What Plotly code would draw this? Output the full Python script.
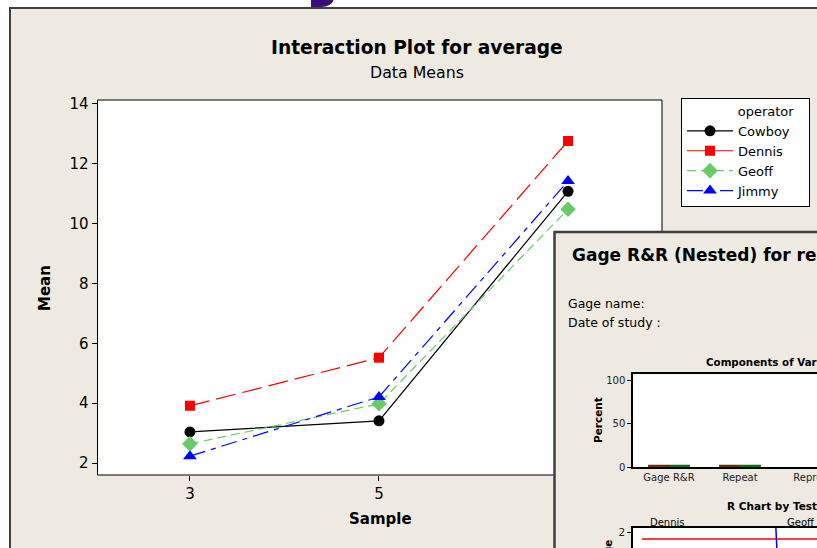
import plotly.graph_objects as go

W, H = 817, 548
def X(px): return px / W
def Y(py): return 1 - py / H

# ---------------- data ----------------
samples = ["3", "5", "(hidden)"]
operators = ["Cowboy", "Dennis", "Geoff", "Jimmy"]
cowboy = [3.04, 3.41, 11.08]
dennis = [3.91, 5.52, 12.76]
geoff = [2.64, 3.98, 10.48]
jimmy = [2.23, 4.21, 11.42]
y_ticks = [2, 4, 6, 8, 10, 12, 14]

# overlapping Gage R&R window: components of variation
components = ["Gage R&R", "Repeat", "Reprod"]
pct_contribution = [2.6, 2.6, 0.0]
pct_study_var = [2.6, 2.6, 0.0]
pct_ticks = [0, 50, 100]

# R chart sliver
rbar_x = [1, 21]
rbar_y = [1.825, 1.825]
range_x = [15.85, 16.0]
range_y = [2.2, 1.5]

FONT = "DejaVu Sans"
BEIGE = "#EEEAE1"
BORDER = "#3F3F3F"
NB = "\u00a0"

styles = {
    "Cowboy": dict(color="black", dash="solid", symbol="circle", size=11),
    "Dennis": dict(color="#FF0000", dash="20px,7px", symbol="square", size=10),
    "Geoff": dict(color="#66CC66", dash="9px,5px", symbol="diamond", size=12),
    "Jimmy": dict(color="#0000FF", dash="16px,6px,5px,6px", symbol="triangle-up", size=12),
}
series = {"Cowboy": cowboy, "Dennis": dennis, "Geoff": geoff, "Jimmy": jimmy}

fig = go.Figure()
xi = list(range(len(samples)))
for op in operators:
    s = styles[op]
    fig.add_trace(go.Scatter(
        x=xi, y=series[op], name=op, mode="lines+markers",
        line=dict(color=s["color"], dash=s["dash"], width=1.2),
        marker=dict(color=s["color"], symbol=s["symbol"], size=s["size"]),
        xaxis="x", yaxis="y"))

fig.add_trace(go.Bar(x=components, y=pct_contribution, marker_color="#6A2F0A",
                     marker_line_width=0, xaxis="x2", yaxis="y2", showlegend=False))
fig.add_trace(go.Bar(x=components, y=pct_study_var, marker_color="#0F6B0F",
                     marker_line_width=0, xaxis="x2", yaxis="y2", showlegend=False))
fig.add_trace(go.Scatter(x=rbar_x, y=rbar_y, mode="lines", line=dict(color="#FF0000", width=1.5),
                         xaxis="x3", yaxis="y3", showlegend=False))
fig.add_trace(go.Scatter(x=range_x, y=range_y, mode="lines", line=dict(color="#0000FF", width=1.5),
                         xaxis="x3", yaxis="y3", showlegend=False))

def rect(x0, y0, x1, y1, fill, line=None, lw=0, layer="below"):
    return dict(type="rect", xref="paper", yref="paper", x0=X(x0), x1=X(x1), y0=Y(y1), y1=Y(y0),
                fillcolor=fill, line=dict(color=line or fill, width=lw), layer=layer)

shapes = [
    dict(type="path", xref="paper", yref="paper",
         path=f"M {X(311)} {Y(-2)} L {X(311)} {Y(7)} L {X(322)} {Y(7)} Q {X(333)} {Y(6)} {X(334)} {Y(-2)} Z",
         fillcolor="#3B0C7A", line=dict(width=0), layer="below"),
    rect(10, 8, 840, 580, BEIGE, BORDER, 2),
    rect(97.5, 100, 662, 475, "white", "black", 1),
    rect(554.5, 232, 840, 580, BEIGE, BORDER, 2.5),
    rect(633, 374, 840, 467, "white"),
    rect(633, 528, 840, 580, "white"),
]

def ann(text, x, y, size, xanchor="center", yanchor="middle", angle=0, color="black"):
    return dict(text=text, x=X(x), y=Y(y), xref="paper", yref="paper", showarrow=False,
                xanchor=xanchor, yanchor=yanchor, textangle=angle,
                font=dict(family=FONT, size=size, color=color))

annotations = [
    ann("<b>Interaction Plot for average</b>", 417, 47, 18.6),
    ann("Data Means", 417, 72, 15.8),
    ann("<b>Mean</b>", 45, 288, 15, angle=-90),
    ann("<b>Sample</b>", 380, 519, 15),
    ann("<b>Gage R&R (Nested) for response</b>", 570, 255, 17, xanchor="left"),
    ann("Gage name:", 566, 303, 12.5, xanchor="left"),
    ann("Date of study :", 566, 322, 12.5, xanchor="left"),
    ann("<b>Components of Variation</b>", 704, 362, 10.3, xanchor="left"),
    ann("<b>Percent</b>", 598, 420, 10.5, angle=-90),
    ann("<b>R Chart by Tester</b>", 725, 506, 10.5, xanchor="left"),
    ann("Dennis", 648, 522, 10, xanchor="left"),
    ann("Geoff", 785, 522, 10, xanchor="left"),
    ann("<b>Sample Range</b>", 607, 538, 10.5, yanchor="top", angle=-90),
]

fig.update_layout(
    width=W, height=H, margin=dict(l=0, r=0, t=0, b=0, autoexpand=False),
    paper_bgcolor="white", plot_bgcolor="white",
    font=dict(family=FONT, color="black"),
    barmode="group", bargap=0.41, bargroupgap=0,
    shapes=shapes, annotations=annotations,
    legend=dict(x=X(681), y=Y(98), xanchor="left", yanchor="top",
                bgcolor="white", bordercolor="black", borderwidth=1,
                font=dict(family=FONT, size=13),
                title=dict(text=NB * 13 + "operator" + NB * 3, font=dict(family=FONT, size=13)),
                tracegroupgap=0, itemwidth=46),
    xaxis=dict(domain=[X(97.5), X(662)], range=[-0.489, 2.497], tickvals=xi[:2], ticktext=samples[:2],
               ticks="outside", ticklen=5, tickcolor="black", showgrid=False, zeroline=False,
               showline=False, tickfont=dict(size=15), automargin=False),
    yaxis=dict(domain=[Y(475), Y(100)], range=[1.6, 14.13], tickvals=y_ticks,
               ticks="outside", ticklen=5, tickcolor="black", showgrid=False, zeroline=False,
               showline=False, tickfont=dict(size=15), automargin=False),
    xaxis2=dict(domain=[X(633), 1], anchor="y2", range=[-0.507, 2.085], showline=True, mirror=True,
                linecolor="black", linewidth=1.5, ticks="", showgrid=False, zeroline=False,
                tickfont=dict(size=10, color="#222"), automargin=False),
    yaxis2=dict(domain=[Y(467), Y(374)], anchor="x2", range=[0, 106.9], tickvals=pct_ticks,
                ticks="outside", ticklen=4, tickcolor="black", showline=True, linecolor="black",
                linewidth=1.5, showgrid=False, zeroline=False, tickfont=dict(size=10, color="#222"),
                automargin=False),
    xaxis3=dict(domain=[X(633), 1], anchor="y3", range=[0, 20.44], side="top", showline=True,
                linecolor="black", linewidth=1.5, showticklabels=False, ticks="", showgrid=False,
                zeroline=False, automargin=False),
    yaxis3=dict(domain=[0, Y(528)], anchor="x3", range=[1.6, 2.1], tickvals=[2], ticks="outside",
                ticklen=4, tickcolor="black", showline=True, linecolor="black", linewidth=1.5,
                showgrid=False, zeroline=False, tickfont=dict(size=10.5, color="#222"),
                automargin=False),
)

fig.write_html("out.html")
